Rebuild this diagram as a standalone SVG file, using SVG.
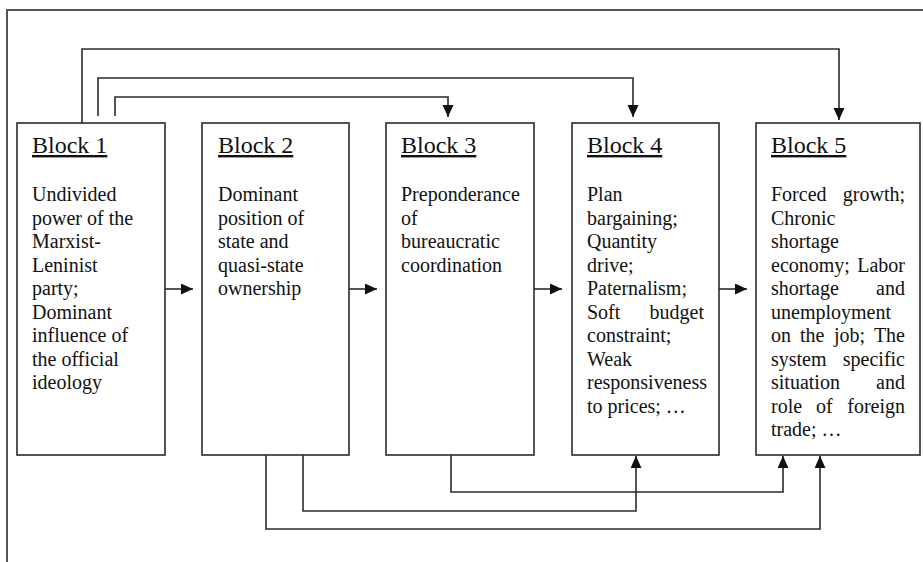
<svg xmlns="http://www.w3.org/2000/svg" width="923" height="562" viewBox="0 0 923 562">
<style>
.box{fill:#fff;stroke:#2b2b2b;stroke-width:1.6}
.con{fill:none;stroke:#2b2b2b;stroke-width:1.6}
.frame{fill:none;stroke:#555;stroke-width:2}
.h{font-family:"Liberation Serif","Times New Roman",serif;font-size:24px;fill:#111;text-decoration:underline}
.t{font-family:"Liberation Serif","Times New Roman",serif;font-size:20px;fill:#111}
.e{text-anchor:end}
</style>
<defs>
<marker id="ah" markerUnits="userSpaceOnUse" markerWidth="13" markerHeight="12" refX="12" refY="5.5" orient="auto">
<path d="M0,0 L12,5.5 L0,11 z" fill="#111"/>
</marker>
</defs>
<rect width="923" height="562" fill="#fff"/>
<path class="frame" d="M7,562 V10 H923"/>
<g id="block1">
<rect class="box" x="17" y="123" width="148" height="332"/>
<text class="h" x="32" y="153">Block 1</text>
<text class="t" x="32" y="201">Undivided</text>
<text class="t" x="32" y="224.5">power of the</text>
<text class="t" x="32" y="248">Marxist-</text>
<text class="t" x="32" y="271.5">Leninist</text>
<text class="t" x="32" y="295">party;</text>
<text class="t" x="32" y="318.5">Dominant</text>
<text class="t" x="32" y="342">influence of</text>
<text class="t" x="32" y="365.5">the official</text>
<text class="t" x="32" y="389">ideology</text>
</g>
<g id="block2">
<rect class="box" x="202" y="123" width="147" height="332"/>
<text class="h" x="218" y="153">Block 2</text>
<text class="t" x="218" y="201">Dominant</text>
<text class="t" x="218" y="224.5">position of</text>
<text class="t" x="218" y="248">state and</text>
<text class="t" x="218" y="271.5">quasi-state</text>
<text class="t" x="218" y="295">ownership</text>
</g>
<g id="block3">
<rect class="box" x="386" y="123" width="148" height="332"/>
<text class="h" x="401" y="153">Block 3</text>
<text class="t" x="401" y="201">Preponderance</text>
<text class="t" x="401" y="224.5">of</text>
<text class="t" x="401" y="248">bureaucratic</text>
<text class="t" x="401" y="271.5">coordination</text>
</g>
<g id="block4">
<rect class="box" x="572" y="123" width="147" height="332"/>
<text class="h" x="587" y="153">Block 4</text>
<text class="t" x="587" y="201">Plan</text>
<text class="t" x="587" y="224.5">bargaining;</text>
<text class="t" x="587" y="248">Quantity</text>
<text class="t" x="587" y="271.5">drive;</text>
<text class="t" x="587" y="295">Paternalism;</text>
<text class="t" x="587" y="318.5">Soft</text>
<text class="t e" x="704" y="318.5">budget</text>
<text class="t" x="587" y="342">constraint;</text>
<text class="t" x="587" y="365.5">Weak</text>
<text class="t" x="587" y="389">responsiveness</text>
<text class="t" x="587" y="412.5">to prices; …</text>
</g>
<g id="block5">
<rect class="box" x="756" y="123" width="164" height="332"/>
<text class="h" x="771" y="153">Block 5</text>
<text class="t" x="771" y="201">Forced</text>
<text class="t e" x="905" y="201">growth;</text>
<text class="t" x="771" y="224.5">Chronic</text>
<text class="t" x="771" y="248">shortage</text>
<text class="t" x="771" y="271.5">economy;</text>
<text class="t e" x="905" y="271.5">Labor</text>
<text class="t" x="771" y="295">shortage</text>
<text class="t e" x="905" y="295">and</text>
<text class="t" x="771" y="318.5">unemployment</text>
<text class="t" x="771" y="342">on</text>
<text class="t" x="800" y="342">the</text>
<text class="t" x="834" y="342">job;</text>
<text class="t e" x="905" y="342">The</text>
<text class="t" x="771" y="365.5">system</text>
<text class="t e" x="905" y="365.5">specific</text>
<text class="t" x="771" y="389">situation</text>
<text class="t e" x="905" y="389">and</text>
<text class="t" x="771" y="412.5">role</text>
<text class="t" x="816" y="412.5">of</text>
<text class="t e" x="905" y="412.5">foreign</text>
<text class="t" x="771" y="436">trade; …</text>
</g>
<g id="connectors">
<path class="con" d="M165,289 H193" marker-end="url(#ah)"/>
<path class="con" d="M349,289 H377" marker-end="url(#ah)"/>
<path class="con" d="M534,289 H562" marker-end="url(#ah)"/>
<path class="con" d="M719,289 H747" marker-end="url(#ah)"/>
<path class="con" d="M82,123 V49 H839 V120" marker-end="url(#ah)"/>
<path class="con" d="M98,116 V78 H633 V117" marker-end="url(#ah)"/>
<path class="con" d="M115,116 V97 H448 V117" marker-end="url(#ah)"/>
<path class="con" d="M266,455 V529 H820 V456" marker-end="url(#ah)"/>
<path class="con" d="M303,455 V511 H636 V456" marker-end="url(#ah)"/>
<path class="con" d="M451,455 V492 H783 V456" marker-end="url(#ah)"/>
</g>
</svg>
